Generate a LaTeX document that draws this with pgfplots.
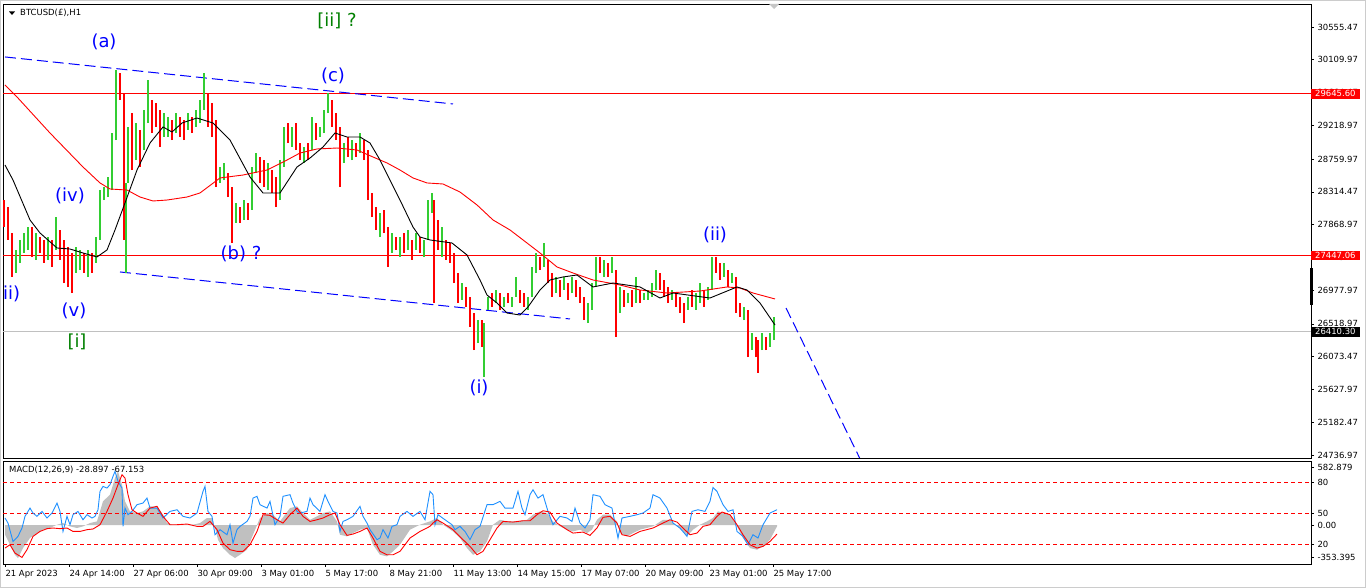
\documentclass[border=0pt]{standalone}
\usepackage{pgfplots}
\pgfplotsset{compat=1.18}
\usepackage{pgfplotstable}
\usepackage{fontspec}
\setmainfont{DejaVu Sans}

\definecolor{cgreen}{RGB}{50,205,50}
\definecolor{cred}{RGB}{255,0,0}
\definecolor{wblue}{RGB}{0,0,255}
\definecolor{wgreen}{RGB}{0,128,0}
\definecolor{mblue}{RGB}{30,144,255}
\definecolor{msilver}{RGB}{192,192,192}
\newcommand\tfont{\fontsize{8.5}{10}\selectfont}
\newcommand\wfont{\fontsize{18}{21}\selectfont}

% hourly candles, thinned: x (bar position), low, high, c (1 up / 0 down)
\pgfplotstableread{
x lo hi c
4 27836 28203 0
8 27660 28108 0
12 27157 27755 0
16 27211 27524 1
20 27347 27660 1
24 27483 27755 1
28 27524 27836 1
32 27429 27836 0
36 27388 27755 1
40 27483 27700 0
44 27347 27660 0
48 27388 27700 1
52 27293 27660 0
56 27524 27972 1
60 27388 27796 0
64 27075 27660 0
68 27021 27565 0
72 26939 27483 0
76 27211 27565 1
80 27252 27524 1
84 27211 27483 0
88 27157 27524 1
92 27211 27483 0
96 27347 27700 1
100 27660 28339 1
104 28203 28380 1
108 28244 28516 1
112 28339 29114 1
116 29019 29971 1
120 29563 29930 0
124 27660 29658 0
126 27211 28435 1
128 28435 29196 1
132 28611 29386 0
136 28747 29250 1
140 28652 29155 0
144 28883 29427 1
148 29250 29835 1
152 29114 29563 0
156 29196 29522 0
160 28924 29427 0
164 29060 29386 1
168 29060 29332 1
172 29019 29291 0
176 29114 29386 1
180 29060 29332 0
184 29019 29291 0
188 29155 29386 1
192 29114 29332 0
196 29196 29427 1
200 29250 29563 1
204 29427 29930 1
208 29196 29658 0
212 29060 29522 0
216 28380 29291 0
220 28435 28652 1
224 28475 28707 1
228 28244 28571 0
232 27619 28380 0
236 27891 28163 1
240 27891 28108 0
244 27932 28203 1
248 27932 28163 0
252 28068 28652 1
256 28571 28842 1
260 28435 28788 0
264 28380 28747 0
268 28339 28707 1
272 28299 28611 0
276 28108 28516 0
280 28203 28747 1
284 28652 29196 1
288 28978 29250 0
292 28924 29196 1
296 28883 29250 0
300 28747 28978 0
304 28707 28924 1
308 28747 28978 0
312 28883 29332 1
316 29019 29250 0
320 29060 29196 1
324 29114 29427 1
328 29386 29658 1
332 29196 29563 0
336 29019 29386 0
340 28380 29196 0
344 28707 28978 1
348 28788 29060 0
352 28747 29019 1
356 28788 28978 0
360 28842 29114 1
364 28747 29019 0
368 28203 28883 0
372 27972 28299 0
376 27796 28108 0
380 27700 28027 1
384 27755 28068 0
388 27293 27836 0
392 27483 27755 1
396 27524 27700 0
400 27429 27700 1
404 27483 27755 0
408 27524 27796 1
412 27388 27660 0
416 27524 27755 1
420 27483 27700 0
424 27429 27660 1
428 27660 28203 1
432 28027 28299 1
434 26803 28203 0
438 27524 27932 0
442 27429 27836 1
446 27388 27660 0
450 27347 27619 0
454 27075 27483 0
458 26803 27211 0
462 26844 27075 1
466 26749 27021 0
470 26477 26885 0
474 26164 26667 0
478 26259 26572 1
482 26205 26572 0
484 25797 26531 1
488 26708 26885 1
492 26749 26939 0
496 26803 26980 1
500 26708 26939 0
504 26749 26885 1
508 26803 26939 0
512 26749 26885 1
516 26885 27157 1
520 26803 26980 0
524 26749 26939 0
528 26708 26885 1
532 26885 27293 1
536 27211 27483 1
540 27252 27429 0
544 27293 27619 1
548 27075 27388 0
552 26885 27211 0
556 26939 27157 1
560 26885 27116 0
564 26980 27157 1
568 26844 27075 0
572 26939 27157 1
576 26885 27116 0
580 26803 27021 0
584 26572 26885 0
588 26531 26803 1
592 26708 27075 1
596 27021 27429 1
600 27211 27429 0
604 27157 27388 1
608 27157 27347 0
612 27211 27429 1
616 26341 27252 0
620 26667 27021 1
624 26749 26980 0
628 26803 26939 1
632 26749 26980 0
636 26803 27157 1
640 26803 26980 0
644 26844 26939 1
648 26844 26980 1
652 26885 27075 1
656 26980 27252 1
660 26980 27211 0
664 26885 27116 0
668 26803 27021 0
672 26844 26980 1
676 26749 26939 0
680 26667 26885 0
684 26531 26803 0
688 26708 26885 1
692 26749 26980 0
696 26708 26939 1
700 26803 27075 1
704 26749 26980 0
708 26844 27021 1
712 26980 27429 1
716 27211 27429 0
720 27116 27347 0
724 27157 27347 1
728 27021 27252 0
732 27075 27211 1
736 26667 27157 0
740 26613 26803 0
744 26572 26749 1
748 26069 26708 0
752 26164 26395 1
756 26069 26341 0
758 25852 26300 0
762 26164 26395 1
766 26164 26341 0
770 26205 26395 1
774 26300 26613 1
}\candles

\pgfplotstableread{
x y
5 28679
13 28475
30 27932
40 27755
57 27551
70 27537
83 27483
97 27429
107 27524
115 27796
125 28163
137 28611
150 28978
163 29196
172 29128
182 29250
197 29318
213 29250
230 29019
250 28516
263 28299
280 28299
297 28652
310 28774
323 28924
335 29114
347 29060
360 29060
370 28978
380 28747
400 28203
413 27836
420 27700
430 27660
452 27619
467 27456
480 27116
487 26912
497 26803
507 26667
520 26640
528 26749
540 26980
550 27116
563 27157
577 27184
593 27021
613 27075
640 27021
660 26871
673 26939
710 26871
737 27021
747 26980
760 26803
775 26504
}\fastma

\pgfplotstableread{
x y
5 29767
17 29604
50 29114
83 28652
100 28435
110 28353
127 28339
140 28244
153 28190
167 28203
187 28244
200 28299
220 28503
243 28543
267 28611
287 28747
300 28842
317 28897
337 28910
357 28883
373 28788
387 28707
400 28611
413 28503
427 28435
443 28421
460 28312
477 28136
493 27932
510 27796
527 27619
540 27483
557 27293
573 27211
593 27116
620 27048
640 26980
667 26939
700 26966
727 27021
740 27007
753 26939
775 26858
}\slowma

\pgfplotstableread{
x y
5 0
5 -88
10 -179
15 -270
18 -300
23 -209
30 -118
37 -73
43 -42
50 -27
57 3
63 18
70 -12
77 -27
83 -12
90 18
97 33
100 124
103 215
110 276
115 427
118 488
122 367
125 215
130 124
137 109
143 124
150 170
157 170
163 94
167 18
173 3
183 3
193 3
200 18
207 64
212 64
215 -27
218 -133
223 -209
230 -270
235 -300
240 -270
247 -224
253 -88
260 64
267 109
273 94
280 33
285 94
290 154
297 170
303 109
310 48
317 79
323 109
330 124
337 33
340 -88
347 -103
353 -73
360 -42
367 -27
373 -179
380 -270
387 -285
393 -239
400 -179
410 -42
420 3
430 33
437 64
443 3
453 -58
460 -118
467 -209
473 -270
480 -239
487 -149
493 3
500 48
507 33
517 33
527 48
533 94
540 124
547 109
553 33
560 -12
567 -42
573 -58
580 -42
587 -73
592 -42
597 48
603 94
610 94
617 33
620 -73
627 -103
633 -73
640 -42
653 -12
663 48
670 48
677 -12
683 -58
687 -103
693 -42
700 3
707 33
713 64
718 124
723 109
730 94
737 -12
743 -118
750 -209
757 -224
763 -194
770 -133
777 -12
777 0
}\macdhist

\pgfplotstableread{
x y
5 64
8 18
13 -149
18 -103
22 -27
25 79
30 154
33 109
37 79
42 124
47 64
52 109
57 200
60 124
63 -58
67 79
70 3
73 94
78 124
83 48
87 94
92 64
95 79
98 139
100 306
103 351
107 336
110 367
113 442
115 488
118 397
122 336
123 -12
125 154
128 94
132 124
137 185
143 200
147 245
150 154
157 154
163 64
170 124
177 139
183 79
190 64
197 109
203 306
205 351
208 124
212 79
215 -88
220 -42
227 -88
230 3
233 -164
237 -42
240 -12
247 33
250 79
253 245
257 261
260 185
267 154
270 215
275 3
280 79
283 261
290 276
293 200
297 124
300 109
307 124
310 245
313 185
320 124
325 276
328 215
333 124
337 109
340 -58
343 33
347 48
353 79
360 170
363 79
367 18
370 -42
377 -133
380 -118
383 -42
388 -118
392 -12
397 3
400 79
407 124
413 79
420 124
425 48
430 306
433 276
435 3
438 94
445 48
452 3
455 -42
460 -12
465 -58
470 -133
475 -42
480 -12
487 185
493 185
500 215
505 154
513 154
518 306
522 154
525 94
530 276
533 321
538 245
543 276
548 124
553 3
560 79
567 64
572 33
575 154
580 18
585 -27
590 48
593 276
600 261
605 185
612 154
615 18
618 -118
622 64
630 79
637 94
643 109
650 154
653 276
660 245
667 154
673 18
680 -27
687 -103
692 124
698 139
705 124
710 215
713 342
717 306
720 245
723 185
728 124
733 139
737 -58
743 -103
748 -179
753 -88
758 -118
763 3
770 109
777 139
}\macdfast

\pgfplotstableread{
x y
5 -209
10 -179
15 -255
22 -294
27 -224
33 -103
40 -58
47 -33
53 -27
60 -33
67 -27
73 -58
80 -58
87 -42
93 -36
100 3
107 124
113 245
118 367
122 457
125 427
128 276
132 139
137 109
143 79
150 154
157 170
163 79
170 3
177 3
187 9
197 -12
203 -12
210 33
217 -42
223 -164
230 -224
237 -239
243 -239
250 -179
257 -58
263 94
270 88
277 48
283 18
290 94
297 154
303 79
310 33
317 48
323 64
330 94
335 109
340 3
347 -94
353 -82
360 -58
367 -27
373 -118
380 -239
387 -270
393 -270
400 -239
410 -118
420 -58
430 -12
433 18
437 48
443 18
453 -42
463 -133
470 -194
477 -270
483 -239
490 -133
497 -27
503 33
513 27
523 39
530 39
537 94
543 130
550 118
557 18
567 -42
573 -73
583 -64
590 -94
597 -27
603 70
610 79
617 18
622 -88
630 -103
640 -58
653 -27
663 18
670 48
677 27
683 -27
690 -88
697 -73
703 -12
710 3
717 79
722 118
730 94
737 3
743 -88
750 -179
757 -209
763 -194
770 -149
777 -82
}\macdsignal

\begin{document}
\begin{tikzpicture}
\useasboundingbox (0,0) rectangle (1366bp,588bp);
\fill[white] (0,0) rectangle (1366bp,588bp);
\draw[gray!40, line width=1bp] (0.5bp,0.5bp) rectangle (1365.5bp,587.5bp);

% ---------- price panel ----------
\begin{axis}[
  at={(3bp,130bp)}, anchor=south west, scale only axis,
  width=1308bp, height=454bp,
  xmin=3, xmax=1311, ymin=24696, ymax=30868,
  axis line style={black, line width=0.8bp},
  xtick=\empty,
  ytick={30555.47,30109.97,29664.47,29218.97,28759.97,28314.47,27868.97,27423.47,26977.97,26518.97,26073.47,25627.97,25182.47,24736.97},
  yticklabels={30555.47,30109.97,29664.47,29218.97,28759.97,28314.47,27868.97,27423.47,26977.97,26518.97,26073.47,25627.97,25182.47,24736.97},
  ytick pos=right, yticklabel pos=right,
  tick align=outside, major tick length=3bp,
  tick style={black, line width=0.6bp},
  yticklabel style={font=\tfont, anchor=west},
  clip mode=individual,
]
\addplot[cred, line width=1bp] coordinates {(3,29645.60) (1311,29645.60)};
\addplot[cred, line width=1bp] coordinates {(3,27447.06) (1311,27447.06)};
\addplot[msilver, line width=1bp] coordinates {(3,26410.30) (1311,26410.30)};

\addplot[wblue, line width=1bp, dash pattern=on 11bp off 5bp] coordinates {(5,30148) (453,29509)};
\addplot[wblue, line width=1bp, dash pattern=on 11bp off 5bp] coordinates {(120,27225) (570,26586)};
\addplot[wblue, line width=1bp, dash pattern=on 11bp off 5bp] coordinates {(786,26735) (868,24465)};

% candles: a wick from low to high, green when the bar closed up
\addplot[draw=none, mark=none, restrict expr to domain={\thisrow{c}}{0.5:1.5},
  error bars/.cd, y dir=plus, y explicit, error mark=none,
  error bar style={line width=2.4bp, draw=cgreen}]
  table[x=x, y=lo, y error expr=\thisrow{hi}-\thisrow{lo}] {\candles};
\addplot[draw=none, mark=none, restrict expr to domain={\thisrow{c}}{-0.5:0.5},
  error bars/.cd, y dir=plus, y explicit, error mark=none,
  error bar style={line width=2.4bp, draw=cred}]
  table[x=x, y=lo, y error expr=\thisrow{hi}-\thisrow{lo}] {\candles};

\addplot[cred, line width=0.9bp] table[x=x, y=y] {\slowma};
\addplot[black, line width=0.9bp] table[x=x, y=y] {\fastma};

\node[fill=cred, text=white, anchor=west, inner xsep=4bp, inner ysep=1.5bp, font=\tfont] at (axis cs:1311,29645.60) {29645.60};
\node[fill=cred, text=white, anchor=west, inner xsep=4bp, inner ysep=1.5bp, font=\tfont] at (axis cs:1311,27447.06) {27447.06};
\node[fill=black, text=white, anchor=west, inner xsep=4bp, inner ysep=1.5bp, font=\tfont] at (axis cs:1311,26410.30) {26410.30};
\end{axis}

% ---------- MACD panel ----------
\begin{axis}[
  at={(3bp,24bp)}, anchor=south west, scale only axis,
  width=1308bp, height=103bp,
  xmin=3, xmax=1311, ymin=-354, ymax=582,
  axis line style={black, line width=0.8bp},
  xtick={5,69,133,197,261,325,389,453,517,581,645,709,773},
  xticklabels={21 Apr 2023,24 Apr 14:00,27 Apr 06:00,30 Apr 09:00,3 May 01:00,5 May 17:00,8 May 21:00,11 May 13:00,14 May 15:00,17 May 07:00,20 May 09:00,23 May 01:00,25 May 17:00},
  xtick pos=bottom,
  ytick={527,391,109,0,-173,-291},
  yticklabels={582.879,80,50,0.00,20,-353.395},
  ytick pos=right, yticklabel pos=right,
  tick align=outside, major tick length=3bp,
  tick style={black, line width=0.6bp},
  yticklabel style={font=\tfont, anchor=west},
  xticklabel style={font=\tfont, anchor=north west, xshift=-3bp},
  clip mode=individual,
]
\addplot[fill=msilver, draw=none] table[x=x, y=y] {\macdhist} \closedcycle;
\addplot[cred, line width=0.8bp, dash pattern=on 4bp off 3bp] coordinates {(3,391) (1311,391)};
\addplot[cred, line width=0.8bp, dash pattern=on 4bp off 3bp] coordinates {(3,109) (1311,109)};
\addplot[cred, line width=0.8bp, dash pattern=on 4bp off 3bp] coordinates {(3,-173) (1311,-173)};
\addplot[mblue, line width=0.9bp] table[x=x, y=y] {\macdfast};
\addplot[cred, line width=0.9bp] table[x=x, y=y] {\macdsignal};
\end{axis}

% ---------- annotations ----------
\fill[black] (9bp,576.5bp) -- (15bp,576.5bp) -- (12bp,573bp) -- cycle;
\node[anchor=west, inner sep=0pt, font=\tfont] at (20bp,575bp) {BTCUSD(£),H1};
\node[anchor=west, inner sep=0pt, font=\tfont] at (9bp,118bp) {MACD(12,26,9) -28.897 -67.153};
\fill[gray!45] (769bp,584bp) -- (779bp,584bp) -- (774bp,579bp) -- cycle;
\fill[black] (1309.5bp,283bp) rectangle (1313bp,320bp);

\node[wblue, font=\wfont] at (104bp,546bp) {(a)};
\node[wgreen, font=\wfont] at (337bp,567bp) {[ii] ?};
\node[wblue, font=\wfont] at (333bp,512bp) {(c)};
\node[wblue, font=\wfont] at (70bp,392bp) {(iv)};
\node[wblue, font=\wfont] at (241bp,334bp) {(b) ?};
\node[wblue, font=\wfont, anchor=west, inner sep=0pt] at (3bp,294bp) {ii)};
\node[wblue, font=\wfont] at (74bp,277bp) {(v)};
\node[wgreen, font=\wfont] at (77bp,246bp) {[i]};
\node[wblue, font=\wfont] at (479bp,200bp) {(i)};
\node[wblue, font=\wfont] at (715bp,353bp) {(ii)};
\end{tikzpicture}
\end{document}
